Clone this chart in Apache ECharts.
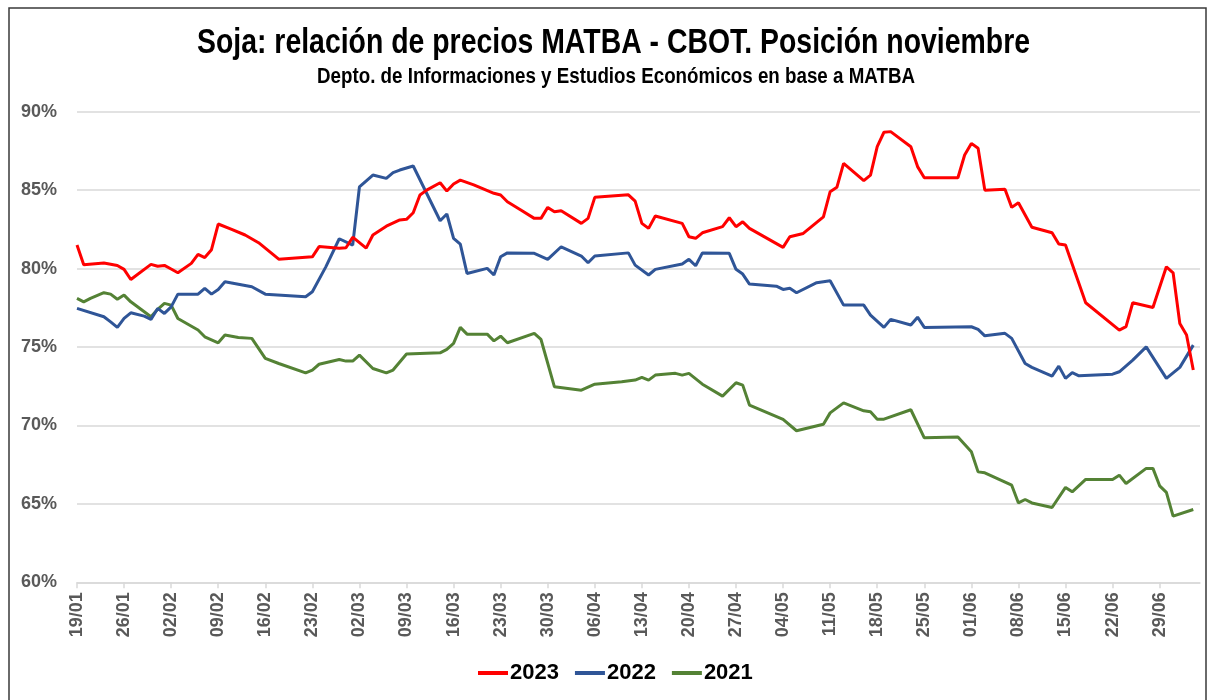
<!DOCTYPE html>
<html>
<head>
<meta charset="utf-8">
<script src="https://cdn.jsdelivr.net/npm/echarts@6/dist/echarts.min.js"></script>
<style>
html,body{margin:0;padding:0;background:#fff;}
#c{width:1213px;height:700px;}
</style>
</head>
<body>
<div id="c"></div>
<script>
// Axis: every calendar day from 19/01 to 05/07 (labels every 7 days)
const startDate = new Date(2023, 0, 19);
const endDate = new Date(2023, 6, 5);
const categories = [];
for (let d = new Date(startDate); d <= endDate; d.setDate(d.getDate() + 1)) {
  categories.push(String(d.getDate()).padStart(2, '0') + '/' + String(d.getMonth() + 1).padStart(2, '0'));
}

const yTicks = [60, 65, 70, 75, 80, 85, 90];

const seriesNames = ['2023', '2022', '2021'];

const titleText = 'Soja: relación de precios MATBA - CBOT. Posición noviembre';
const subtitleText = 'Depto. de Informaciones y Estudios Económicos en base a MATBA';

const data2023 = [
['19/01',81.5],['20/01',80.25],['23/01',80.35],['25/01',80.2],['26/01',79.95],['27/01',79.3],['30/01',80.27],['31/01',80.15],
['01/02',80.2],['02/02',79.97],['03/02',79.73],['05/02',80.33],['06/02',80.9],['07/02',80.7],['08/02',81.2],['09/02',82.84],
['11/02',82.5],['13/02',82.14],['15/02',81.65],['18/02',80.6],['23/02',80.75],['24/02',81.4],['27/02',81.3],['28/02',81.33],
['01/03',82.0],['03/03',81.3],['04/03',82.14],['06/03',82.7],['08/03',83.1],['09/03',83.14],['10/03',83.56],['11/03',84.69],
['12/03',85.0],['14/03',85.47],['15/03',84.94],['16/03',85.39],['17/03',85.64],['19/03',85.33],['22/03',84.8],['23/03',84.69],
['24/03',84.26],['26/03',83.73],['28/03',83.2],['29/03',83.2],['30/03',83.9],['31/03',83.62],['01/04',83.69],['04/04',82.88],
['05/04',83.2],['06/04',84.54],['11/04',84.7],['12/04',84.3],['13/04',82.88],['14/04',82.56],['15/04',83.35],['19/04',82.88],
['20/04',82.03],['21/04',81.93],['22/04',82.28],['25/04',82.67],['26/04',83.24],['27/04',82.67],['28/04',82.98],['29/04',82.56],
['04/05',81.35],['05/05',82.03],['07/05',82.24],['10/05',83.3],['11/05',84.9],['12/05',85.18],['13/05',86.7],['16/05',85.6],
['17/05',85.96],['18/05',87.77],['19/05',88.69],['20/05',88.73],['23/05',87.77],['24/05',86.5],['25/05',85.79],['30/05',85.79],
['31/05',87.24],['01/06',87.98],['02/06',87.67],['03/06',85.0],['06/06',85.05],['07/06',83.9],['08/06',84.2],['10/06',82.63],
['13/06',82.28],['14/06',81.56],['15/06',81.5],['18/06',77.82],['23/06',76.08],['24/06',76.3],['25/06',77.82],['28/06',77.52],
['30/06',80.11],['01/07',79.73],['02/07',76.5],['03/07',75.76],['04/07',73.53]
];

const data2022 = [
['19/01',77.46],['23/01',76.93],['24/01',76.6],['25/01',76.25],['26/01',76.82],['27/01',77.18],['29/01',76.97],['30/01',76.76],
['31/01',77.46],['01/02',77.14],['02/02',77.56],['03/02',78.37],['06/02',78.37],['07/02',78.74],['08/02',78.37],['09/02',78.67],
['10/02',79.16],['14/02',78.84],['16/02',78.37],['22/02',78.2],['23/02',78.52],['25/02',80.11],['27/02',81.9],['01/03',81.5],
['02/03',85.2],['04/03',85.96],['06/03',85.75],['07/03',86.11],['08/03',86.28],['10/03',86.54],['14/03',83.05],['15/03',83.48],
['16/03',81.93],['17/03',81.56],['18/03',79.69],['21/03',80.01],['22/03',79.59],['23/03',80.75],['24/03',81.0],['28/03',80.97],
['30/03',80.59],['01/04',81.39],['04/04',80.8],['05/04',80.37],['06/04',80.8],['11/04',81.0],['12/04',80.22],['14/04',79.59],
['15/04',79.95],['19/04',80.29],['20/04',80.59],['21/04',80.18],['22/04',81.0],['26/04',80.97],['27/04',79.95],['28/04',79.65],
['29/04',79.01],['03/05',78.88],['04/05',78.67],['05/05',78.74],['06/05',78.46],['09/05',79.1],['11/05',79.22],['13/05',77.67],
['16/05',77.67],['17/05',77.03],['19/05',76.25],['20/05',76.76],['23/05',76.4],['24/05',76.9],['25/05',76.25],['01/06',76.29],
['02/06',76.12],['03/06',75.71],['06/06',75.87],['07/06',75.55],['09/06',73.95],['10/06',73.7],['13/06',73.14],['14/06',73.78],
['15/06',73.0],['16/06',73.36],['17/06',73.16],['22/06',73.27],['23/06',73.42],['25/06',74.16],['27/06',75.01],['30/06',73.0],
['02/07',73.7],['04/07',75.12]
];

const data2021 = [
['19/01',78.1],['20/01',77.88],['21/01',78.1],['23/01',78.46],['24/01',78.37],['25/01',78.04],['26/01',78.31],['27/01',77.88],
['30/01',76.93],['31/01',77.4],['01/02',77.78],['02/02',77.67],['03/02',76.82],['06/02',76.08],['07/02',75.65],['09/02',75.27],
['10/02',75.76],['12/02',75.61],['14/02',75.55],['16/02',74.27],['18/02',73.95],['22/02',73.35],['23/02',73.53],['24/02',73.9],
['27/02',74.2],['28/02',74.1],['01/03',74.1],['02/03',74.48],['04/03',73.63],['06/03',73.35],['07/03',73.53],['09/03',74.55],
['14/03',74.63],['15/03',74.85],['16/03',75.23],['17/03',76.25],['18/03',75.82],['21/03',75.82],['22/03',75.39],['23/03',75.69],
['24/03',75.27],['28/03',75.87],['29/03',75.48],['31/03',72.46],['04/04',72.25],['06/04',72.63],['10/04',72.78],['12/04',72.89],
['13/04',73.06],['14/04',72.89],['15/04',73.21],['18/04',73.32],['19/04',73.21],['20/04',73.32],['22/04',72.63],['25/04',71.87],
['27/04',72.72],['28/04',72.57],['29/04',71.3],['04/05',70.38],['06/05',69.66],['10/05',70.08],['11/05',70.8],['13/05',71.44],
['16/05',70.93],['17/05',70.87],['18/05',70.4],['19/05',70.4],['23/05',71.0],['25/05',69.21],['30/05',69.27],['01/06',68.32],
['02/06',67.04],['03/06',66.98],['07/06',66.19],['08/06',65.06],['09/06',65.28],['10/06',65.06],['13/06',64.77],['15/06',66.05],
['16/06',65.77],['18/06',66.56],['22/06',66.56],['23/06',66.83],['24/06',66.3],['27/06',67.26],['28/06',67.26],['29/06',66.15],
['30/06',65.73],['01/07',64.22],['04/07',64.64]
];

const colors = ['#FF0000', '#2F5597', '#548235'];
const seriesData = [data2023, data2022, data2021];

const sans = "'Liberation Sans', Arial, sans-serif";

// condensed look for the headings: horizontal squeeze to a target width
function fitScale(text, font, targetWidth) {
  const ctx = document.createElement('canvas').getContext('2d');
  ctx.font = font;
  const w = ctx.measureText(text).width;
  return w > 0 ? targetWidth / w : 1;
}
const titleFont = "bold 35px 'Liberation Sans', Arial, sans-serif";
const subFont = "bold 22px 'Liberation Sans', Arial, sans-serif";
const titleScale = fitScale(titleText, titleFont, 833);
const subScale = fitScale(subtitleText, subFont, 598);

const chart = echarts.init(document.getElementById('c'), null, {renderer: 'canvas'});
chart.setOption({
  animation: false,
  backgroundColor: '#ffffff',
  graphic: [{
    type: 'rect',
    shape: {x: 9, y: 8, width: 1197, height: 700},
    style: {fill: 'none', stroke: '#3a3a3a', lineWidth: 1.5},
    silent: true
  }, {
    type: 'text',
    x: 613.5, y: 43,
    scaleX: titleScale,
    style: {text: titleText, font: titleFont, fill: '#000', textAlign: 'center', textVerticalAlign: 'middle'},
    silent: true
  }, {
    type: 'text',
    x: 616, y: 77,
    scaleX: subScale,
    style: {text: subtitleText, font: subFont, fill: '#000', textAlign: 'center', textVerticalAlign: 'middle'},
    silent: true
  }],
  legend: {
    data: seriesNames,
    bottom: 11,
    left: 473,
    icon: 'rect',
    itemWidth: 30,
    itemHeight: 4,
    itemGap: 16,
    textStyle: {fontFamily: sans, fontWeight: 'bold', fontSize: 22, color: '#000', padding: [0, 0, 0, -3]}
  },
  grid: {left: 77, right: 13, top: 111.7, bottom: 117.7, containLabel: false},
  xAxis: {
    type: 'category',
    data: categories,
    boundaryGap: false,
    axisLine: {lineStyle: {color: '#d9d9d9', width: 1.5}},
    axisTick: {interval: 6, length: 6, lineStyle: {color: '#d9d9d9', width: 1.5}},
    axisLabel: {interval: 6, rotate: 90, margin: 10, fontSize: 18, fontWeight: 'bold', color: '#595959', fontFamily: sans},
    splitLine: {show: false}
  },
  yAxis: {
    type: 'value',
    min: yTicks[0],
    max: yTicks[yTicks.length - 1],
    interval: 5,
    axisLine: {show: false},
    axisTick: {show: false},
    axisLabel: {formatter: '{value}%', fontSize: 18, fontWeight: 'bold', margin: 20, color: '#595959', fontFamily: sans},
    splitLine: {lineStyle: {color: '#d9d9d9', width: 1.5}}
  },
  series: seriesNames.map((name, i) => ({
    name: name,
    type: 'line',
    data: seriesData[i],
    showSymbol: false,
    symbol: 'none',
    lineStyle: {color: colors[i], width: 3},
    itemStyle: {color: colors[i]},
    z: 10 - i
  }))
});
</script>
</body>
</html>
